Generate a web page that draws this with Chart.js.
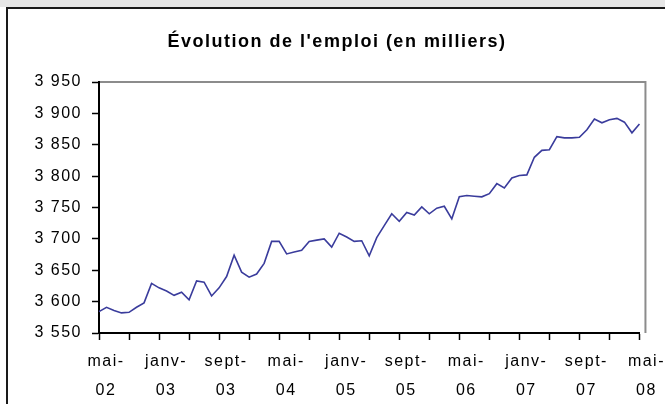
<!DOCTYPE html>
<html>
<head>
<meta charset="utf-8">
<script src="https://cdn.jsdelivr.net/npm/chart.js@4"></script>
<style>
html,body{margin:0;padding:0;background:#fff;}
#wrap{width:665px;height:404px;position:relative;}
</style>
</head>
<body>
<div id="wrap"><canvas id="c" width="665" height="404"></canvas></div>
<script>
const titleText = "Évolution de l'emploi (en milliers)";

const categories = ['mai-02','juin-02','juil-02','août-02','sept-02','oct-02','nov-02','déc-02',
'janv-03','févr-03','mars-03','avr-03','mai-03','juin-03','juil-03','août-03','sept-03','oct-03','nov-03','déc-03',
'janv-04','févr-04','mars-04','avr-04','mai-04','juin-04','juil-04','août-04','sept-04','oct-04','nov-04','déc-04',
'janv-05','févr-05','mars-05','avr-05','mai-05','juin-05','juil-05','août-05','sept-05','oct-05','nov-05','déc-05',
'janv-06','févr-06','mars-06','avr-06','mai-06','juin-06','juil-06','août-06','sept-06','oct-06','nov-06','déc-06',
'janv-07','févr-07','mars-07','avr-07','mai-07','juin-07','juil-07','août-07','sept-07','oct-07','nov-07','déc-07',
'janv-08','févr-08','mars-08','avr-08','mai-08'];

const emploi = [3584,3591,3586,3582,3583,3591,3598,3629,3622,3617,
 3610,3615,3603,3633,3631,3609,3622,3640,3674,3647,
 3639,3644,3661,3696,3696,3676,3679,3682,3696,3698,
 3700,3687,3709,3703,3696,3697,3673,3702,3721,3740,
 3728,3742,3738,3751,3740,3749,3752,3732,3767,3769,
 3768,3767,3772,3788,3781,3797,3801,3802,3830,3841,
 3842,3863,3861,3861,3862,3874,3891,3885,3890,3892,
 3886,3869,3883];

const yTickLabels = ['3 550','3 600','3 650','3 700','3 750','3 800','3 850','3 900','3 950'];

const LS = '1.5px';
const spacing = {
  id: 'spacing',
  beforeLayout(chart){ chart.ctx.letterSpacing = LS; },
  beforeDraw(chart){ chart.ctx.letterSpacing = LS; }
};

const frame = {
  id: 'frame',
  beforeDraw(chart){
    const ctx = chart.ctx;
    ctx.save();
    ctx.fillStyle = '#ffffff';
    ctx.fillRect(0, 0, chart.width, chart.height);
    ctx.fillStyle = '#e6e6e6';
    ctx.fillRect(0, 0, chart.width, 7);
    ctx.strokeStyle = '#1a1a1a';
    ctx.lineWidth = 2;
    ctx.beginPath();
    ctx.moveTo(7, chart.height);
    ctx.lineTo(7, 8);
    ctx.lineTo(chart.width, 8);
    ctx.stroke();
    const a = chart.chartArea;
    ctx.strokeStyle = '#8c8c8c';
    ctx.lineWidth = 2;
    ctx.beginPath();
    ctx.moveTo(a.left, a.top);
    ctx.lineTo(a.right + 6, a.top);
    ctx.lineTo(a.right + 6, a.bottom);
    ctx.stroke();
    ctx.restore();
  }
};

const tickFont = {family: 'Liberation Sans', size: 16};

new Chart(document.getElementById('c'), {
  type: 'line',
  data: {
    labels: categories,
    datasets: [{
      data: emploi,
      borderColor: '#3a3c9c',
      borderWidth: 1.6,
      pointRadius: 0,
      tension: 0,
      fill: false
    }]
  },
  options: {
    responsive: false,
    animation: false,
    devicePixelRatio: 1,
    layout: {padding: {left: 33, right: 24, top: 0, bottom: 0}},
    plugins: {
      legend: {display: false},
      tooltip: {enabled: false},
      title: {
        display: true,
        text: titleText,
        color: '#000',
        font: {family: 'Liberation Sans', size: 18, weight: 'bold'},
        padding: {top: 31, bottom: 29.4}
      }
    },
    scales: {
      x: {
        type: 'category',
        offset: false,
        border: {display: true, color: '#000', width: 2},
        grid: {
          drawOnChartArea: false,
          drawTicks: true,
          tickLength: 7,
          tickWidth: 1.5,
          tickColor: (ctx) => (ctx.index % 4 === 0 ? '#000' : 'rgba(0,0,0,0)')
        },
        ticks: {
          autoSkip: false,
          maxRotation: 0,
          minRotation: 0,
          padding: 7,
          labelOffset: 7,
          color: '#000',
          font: {family: 'Liberation Sans', size: 16, lineHeight: 1.8},
          callback: function(v, i){
            if (i % 8 !== 0) return '';
            const s = categories[i].split('-');
            return [s[0] + '-', s[1]];
          }
        },
        afterFit(scale){ scale.height = 71; }
      },
      y: {
        min: 3550,
        max: 3950,
        border: {display: true, color: '#000', width: 2},
        grid: {drawOnChartArea: false, drawTicks: true, tickLength: 7, tickWidth: 1.5, tickColor: '#000'},
        ticks: {
          stepSize: 50,
          padding: 10,
          color: '#000',
          font: tickFont,
          callback: function(v, i){ return yTickLabels[i]; }
        },
        afterFit(scale){ scale.width = 66; }
      }
    }
  },
  plugins: [spacing, frame]
});
</script>
</body>
</html>
